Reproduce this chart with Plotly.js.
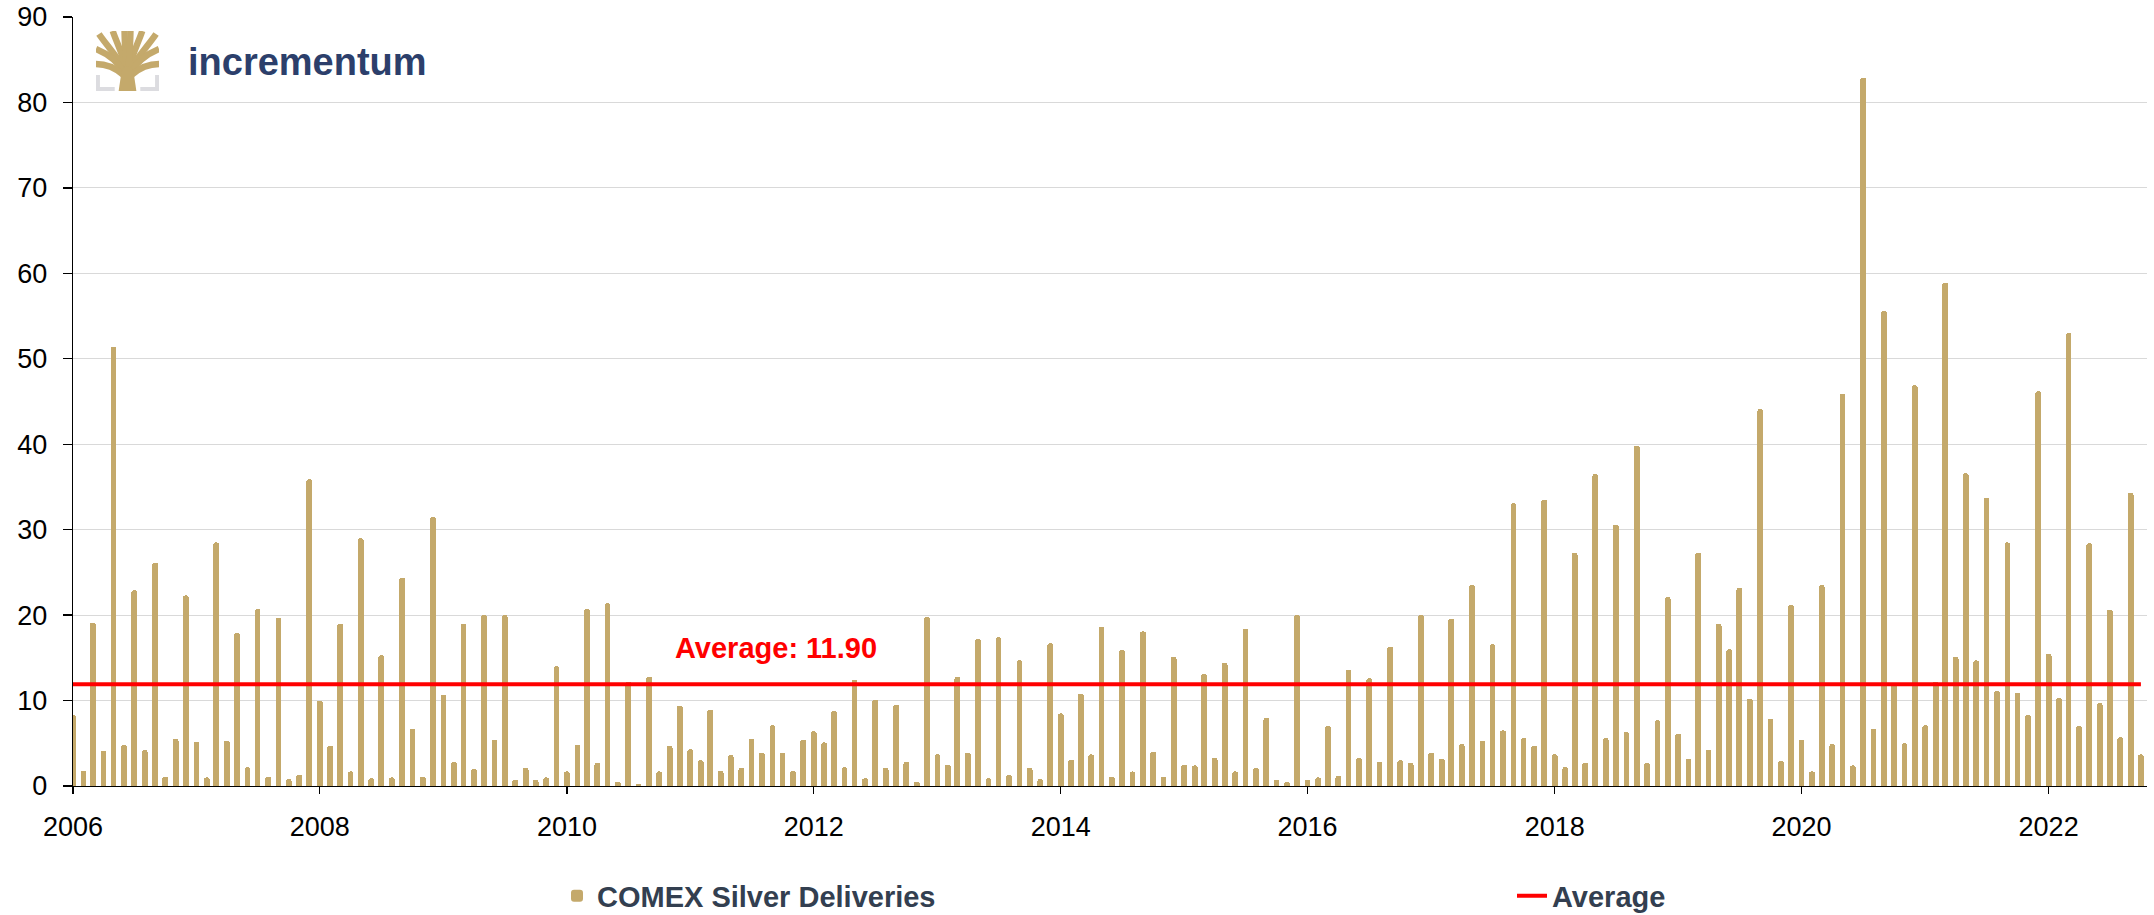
<!DOCTYPE html>
<html>
<head>
<meta charset="utf-8">
<script src="https://cdn.plot.ly/plotly-3.0.1.min.js"></script>
<style>html,body{margin:0;padding:0;background:#fff;}#chart{width:2154px;height:915px;}</style>
</head>
<body>
<div id="chart"></div>
<script>
// ---- data (monthly COMEX silver deliveries, Jan 2006 .. Oct 2022) ----
const startMonth = '2006-01';
const deliveries = [
  8.3, 1.75, 19.1, 4.1, 51.4, 4.8, 22.9, 4.2, 26.1, 1.1, 5.5, 22.3,   // 2006
  5.2, 1.0, 28.5, 5.3, 17.9, 2.2, 20.7, 1.1, 19.7, 0.8, 1.3, 35.9,    // 2007
  10.0, 4.7, 19.0, 1.7, 29.0, 0.9, 15.3, 1.0, 24.4, 6.7, 1.1, 31.5,   // 2008
  10.7, 2.8, 19.0, 2.0, 20.0, 5.4, 20.0, 0.7, 2.1, 0.7, 1.0, 14.0,    // 2009
  1.7, 4.8, 20.7, 2.7, 21.4, 0.5, 12.2, 0.2, 12.8, 1.7, 4.7, 9.4,     // 2010
  4.3, 3.0, 8.9, 1.75, 3.6, 2.1, 5.5, 3.9, 7.1, 3.9, 1.75, 5.4,       // 2011
  6.4, 5.1, 8.8, 2.2, 12.4, 0.9, 10.1, 2.1, 9.5, 2.8, 0.5, 19.8,      // 2012
  3.7, 2.5, 12.8, 3.9, 17.2, 0.9, 17.4, 1.3, 14.7, 2.1, 0.8, 16.7,    // 2013
  8.5, 3.1, 10.8, 3.7, 18.6, 1.1, 15.9, 1.7, 18.1, 4.0, 1.1, 15.1,    // 2014
  2.5, 2.4, 13.1, 3.3, 14.4, 1.7, 18.4, 2.1, 8.0, 0.7, 0.5, 20.0,     // 2015
  0.7, 1.0, 7.0, 1.2, 13.6, 3.3, 12.6, 2.8, 16.3, 3.0, 2.7, 20.0,     // 2016
  3.9, 3.2, 19.6, 4.9, 23.5, 5.3, 16.6, 6.5, 33.1, 5.6, 4.7, 33.5,    // 2017
  3.7, 2.2, 27.3, 2.7, 36.5, 5.6, 30.6, 6.3, 39.8, 2.7, 7.7, 22.1,    // 2018
  6.1, 3.2, 27.3, 4.2, 19.0, 16.0, 23.2, 10.2, 44.1, 7.9, 2.9, 21.2,  // 2019
  5.4, 1.7, 23.5, 4.9, 45.9, 2.4, 82.9, 6.7, 55.6, 11.8, 5.0, 46.9,   // 2020
  7.1, 12.2, 58.9, 15.1, 36.6, 14.7, 33.7, 11.1, 28.5, 10.9, 8.3, 46.2, // 2021
  15.5, 10.3, 53.0, 7.0, 28.4, 9.7, 20.6, 5.7, 34.3, 3.7              // 2022
];
const averageValue = 11.90;
const tickYears = ['2006','2008','2010','2012','2014','2016','2018','2020','2022'];
const seriesNames = ['COMEX Silver Deliveries', 'Average'];

// month dates built from the start month
const months = [];
{
  let y = parseInt(startMonth.slice(0,4),10), m = parseInt(startMonth.slice(5,7),10);
  for (let i = 0; i < deliveries.length; i++) {
    months.push(y + '-' + String(m).padStart(2,'0') + '-01');
    m++; if (m > 12) { m = 1; y++; }
  }
}

// ---- styling ----
const GOLD = '#C4A96B';
const RED = '#FF0000';
const FONT = 'Liberation Sans, Arial, sans-serif';
const W = 2154, H = 915;
const M = {l: 73, r: 7, t: 17, b: 129};
const PW = W - M.l - M.r, PH = H - M.t - M.b;
const px2x = px => (px - M.l) / PW;
const py2y = py => (H - M.b - py) / PH;

const DAY = 86400000;

const bars = {
  type: 'bar',
  name: seriesNames[0],
  x: months,
  y: deliveries,
  width: months.map(() => 17 * DAY),
  marker: {color: GOLD, line: {width: 0}, cornerradius: 3},
  legendwidth: 910,
  hoverinfo: 'skip'
};

const avgLine = {
  type: 'scatter',
  mode: 'lines',
  name: seriesNames[1],
  x: [months[0], months[months.length - 1]],
  y: [averageValue, averageValue],
  line: {color: RED, width: 4},
  legendwidth: 130,
  hoverinfo: 'skip'
};

const logoSvg = "<svg xmlns='http://www.w3.org/2000/svg' viewBox='0 0 64 60'>" +
  "<g fill='none' stroke='" + GOLD + "' stroke-width='6.5' stroke-linecap='butt'>" +
  "<path d='M31,42 C29,26 21,12 17,0'/>" +
  "<path d='M33,42 C35,26 43,12 47,0'/>" +
  "<path d='M31,40 C30,24 29,10 29,0'/>" +
  "<path d='M33,40 C34,24 35,10 35,0'/>" +
  "<path d='M30,40 C22,26 9,12 3,3'/>" +
  "<path d='M34,40 C42,26 55,12 61,3'/>" +
  "<path d='M29,42 C22,30 10,22 0,18'/>" +
  "<path d='M35,42 C42,30 54,22 64,18'/>" +
  "<path d='M28,44 C20,37 10,33 0,33'/>" +
  "<path d='M36,44 C44,37 54,33 64,33'/>" +
  "</g>" +
  "<path d='M23,60 L26,40 Q32,30 38,40 L41,60 Z' fill='" + GOLD + "'/>" +
  "<path d='M2,44 V58 H19 M62,44 V58 H45' fill='none' stroke='#DCDCE0' stroke-width='4'/>" +
  "</svg>";
const logoUri = 'data:image/svg+xml;charset=utf-8,' + encodeURIComponent(logoSvg);

const layout = {
  width: W, height: H,
  margin: M,
  paper_bgcolor: '#fff',
  plot_bgcolor: '#fff',
  font: {family: FONT, size: 27, color: '#000'},
  showlegend: true,
  bargap: 0,
  xaxis: {
    type: 'date',
    range: ['2006-01-01', '2022-10-19'],
    tickvals: tickYears.map(y => y + '-01-01'),
    ticktext: tickYears,
    showgrid: false,
    zeroline: false,
    showline: true, linecolor: '#000', linewidth: 1.3,
    ticks: 'outside', ticklen: 7, tickcolor: '#000', tickwidth: 1.3,
    ticklabelstandoff: 9,
    tickfont: {family: FONT, size: 27, color: '#000'},
    fixedrange: true
  },
  yaxis: {
    range: [0, 90],
    tick0: 0, dtick: 10,
    showgrid: true, gridcolor: '#D9D9D9', gridwidth: 1,
    zeroline: false,
    showline: true, linecolor: '#000', linewidth: 1.3,
    ticks: 'outside', ticklen: 9, tickcolor: '#000', tickwidth: 1.3,
    ticklabelstandoff: 10,
    tickfont: {family: FONT, size: 27, color: '#000'},
    fixedrange: true
  },
  legend: {
    orientation: 'h',
    xref: 'paper', x: px2x(557), xanchor: 'left',
    yref: 'container', y: (H - 896) / H, yanchor: 'middle',
    font: {family: FONT, size: 29, color: '#333F50', weight: 'bold'},
    traceorder: 'normal',
    bgcolor: 'rgba(0,0,0,0)'
  },
  annotations: [
    {
      xref: 'paper', yref: 'paper',
      x: px2x(776), y: py2y(648), xanchor: 'center', yanchor: 'middle',
      text: 'Average: 11.90', showarrow: false,
      font: {family: FONT, size: 29, color: RED, weight: 'bold'}
    },
    {
      xref: 'paper', yref: 'paper',
      x: px2x(186), y: py2y(62), xanchor: 'left', yanchor: 'middle',
      text: 'incrementum', showarrow: false,
      font: {family: FONT, size: 38, color: '#2C3F6B', weight: 'bold'}
    }
  ],
  images: [
    {
      source: logoUri,
      xref: 'paper', yref: 'paper',
      x: px2x(96), y: py2y(31),
      sizex: 63 / PW, sizey: 60 / PH,
      xanchor: 'left', yanchor: 'top',
      sizing: 'stretch', layer: 'above'
    }
  ]
};

Plotly.newPlot('chart', [bars, avgLine], layout, {displayModeBar: false, staticPlot: true});
</script>
</body>
</html>
